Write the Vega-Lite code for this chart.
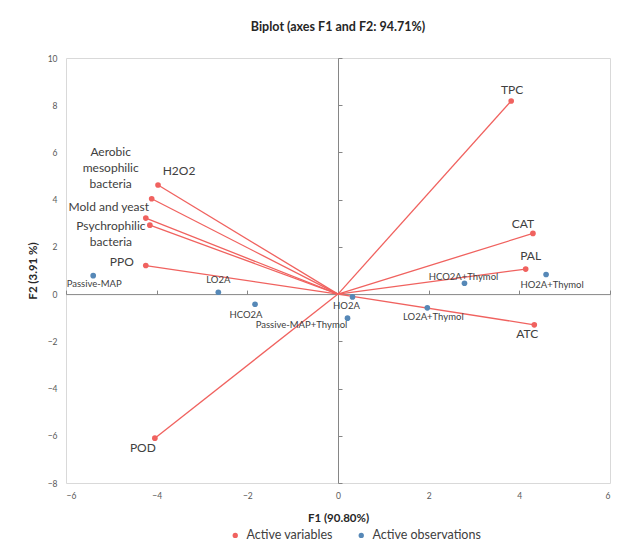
{
  "$schema": "https://vega.github.io/schema/vega-lite/v6.json",
  "width": 544,
  "height": 425,
  "autosize": {"type": "none"},
  "padding": {"left": 66, "top": 58, "right": 15, "bottom": 68},
  "background": "white",
  "title": {"text": "Biplot (axes F1 and F2: 94.71%)", "anchor": "middle", "font": "Lato", "fontSize": 12.5, "fontWeight": "bold", "color": "#262626", "offset": 21},
  "config": {
    "view": {"stroke": "#D9D9D9", "strokeWidth": 1},
    "font": "Lato",
    "text": {"font": "Lato"}
  },
  "data": {"values": [
    {"name": "TPC", "F1": 3.82, "F2": 8.18, "type": "Active variables"},
    {"name": "CAT", "F1": 4.30, "F2": 2.57, "type": "Active variables"},
    {"name": "PAL", "F1": 4.14, "F2": 1.06, "type": "Active variables"},
    {"name": "ATC", "F1": 4.33, "F2": -1.30, "type": "Active variables"},
    {"name": "POD", "F1": -4.04, "F2": -6.10, "type": "Active variables"},
    {"name": "PPO", "F1": -4.24, "F2": 1.21, "type": "Active variables"},
    {"name": "Psychrophilic bacteria", "F1": -4.15, "F2": 2.92, "type": "Active variables"},
    {"name": "Mold and yeast", "F1": -4.24, "F2": 3.22, "type": "Active variables"},
    {"name": "Aerobic mesophilic bacteria", "F1": -4.11, "F2": 4.04, "type": "Active variables"},
    {"name": "H2O2", "F1": -3.97, "F2": 4.62, "type": "Active variables"},
    {"name": "Passive-MAP", "F1": -5.40, "F2": 0.78, "type": "Active observations"},
    {"name": "LO2A", "F1": -2.64, "F2": 0.08, "type": "Active observations"},
    {"name": "HCO2A", "F1": -1.83, "F2": -0.43, "type": "Active observations"},
    {"name": "HO2A", "F1": 0.32, "F2": -0.12, "type": "Active observations"},
    {"name": "Passive-MAP+Thymol", "F1": 0.21, "F2": -1.02, "type": "Active observations"},
    {"name": "LO2A+Thymol", "F1": 1.97, "F2": -0.58, "type": "Active observations"},
    {"name": "HCO2A+Thymol", "F1": 2.79, "F2": 0.46, "type": "Active observations"},
    {"name": "HO2A+Thymol", "F1": 4.59, "F2": 0.83, "type": "Active observations"}
  ]},
  "resolve": {"scale": {"x": "independent", "y": "independent"}, "axis": {"x": "independent", "y": "independent"}},
  "layer": [
    {
      "encoding": {
        "x": {"field": "F1", "type": "quantitative", "scale": {"domain": [-6, 6], "nice": false},
          "axis": {"values": [-6, -4, -2, 0, 2, 4, 6], "grid": false, "domain": false, "ticks": false, "labelPadding": 8, "labelFontSize": 8.5, "labelColor": "#595959", "labelFont": "Lato",
            "title": "F1 (90.80%)", "titleFont": "Lato", "titleFontSize": 11.5, "titleFontWeight": "bold", "titleColor": "#262626", "titleBaseline": "middle", "titleY": 35}},
        "y": {"field": "F2", "type": "quantitative", "scale": {"domain": [-8, 10], "nice": false},
          "axis": {"values": [-8, -6, -4, -2, 0, 2, 4, 6, 8, 10], "grid": false, "domain": false, "ticks": false, "labelPadding": 9, "labelFontSize": 8.5, "labelColor": "#595959", "labelFont": "Lato",
            "title": "F2 (3.91 %)", "titleFont": "Lato", "titleFontSize": 11.5, "titleFontWeight": "bold", "titleColor": "#262626", "titleAngle": -90, "titleBaseline": "middle", "titleAlign": "center", "titleX": -33, "titleY": 212.5}}
      },
      "layer": [
        {
          "transform": [{"filter": "datum.type === 'Active variables'"}],
          "mark": {"type": "rule", "color": "#F0625F", "strokeWidth": 1.3},
          "encoding": {"x2": {"datum": 0}, "y2": {"datum": 0}}
        },
        {
          "mark": {"type": "point", "filled": true, "opacity": 1, "size": 32},
          "encoding": {
            "color": {"field": "type", "type": "nominal",
              "scale": {"domain": ["Active variables", "Active observations"], "range": ["#F0625F", "#5688B7"]},
              "legend": {"title": null, "orient": "none", "direction": "horizontal", "legendX": 163, "legendY": 471,
                "symbolType": "circle", "symbolSize": 28, "labelFont": "Lato", "labelFontSize": 12.5, "labelColor": "#404040", "labelOffset": 5, "columnPadding": 22}}
          }
        },
        {"transform": [{"filter": "datum.name === 'TPC'"}], "mark": {"type": "text", "fontSize": 12, "color": "#404040", "align": "center", "baseline": "middle", "dx": 1, "dy": -11}, "encoding": {"text": {"field": "name"}}},
        {"transform": [{"filter": "datum.name === 'CAT'"}], "mark": {"type": "text", "fontSize": 12, "color": "#404040", "align": "center", "baseline": "middle", "dx": -10, "dy": -9}, "encoding": {"text": {"field": "name"}}},
        {"transform": [{"filter": "datum.name === 'PAL'"}], "mark": {"type": "text", "fontSize": 12, "color": "#404040", "align": "center", "baseline": "middle", "dx": 5, "dy": -13}, "encoding": {"text": {"field": "name"}}},
        {"transform": [{"filter": "datum.name === 'ATC'"}], "mark": {"type": "text", "fontSize": 12, "color": "#404040", "align": "center", "baseline": "middle", "dx": -7, "dy": 9}, "encoding": {"text": {"field": "name"}}},
        {"transform": [{"filter": "datum.name === 'POD'"}], "mark": {"type": "text", "fontSize": 12, "color": "#404040", "align": "center", "baseline": "middle", "dx": -12, "dy": 10}, "encoding": {"text": {"field": "name"}}},
        {"transform": [{"filter": "datum.name === 'PPO'"}], "mark": {"type": "text", "fontSize": 12, "color": "#404040", "align": "center", "baseline": "middle", "dx": -24, "dy": -4}, "encoding": {"text": {"field": "name"}}},
        {"transform": [{"filter": "datum.name === 'H2O2'"}], "mark": {"type": "text", "fontSize": 12, "color": "#404040", "align": "center", "baseline": "middle", "dx": 21, "dy": -14}, "encoding": {"text": {"field": "name"}}},
        {"transform": [{"filter": "datum.name === 'Mold and yeast'"}], "mark": {"type": "text", "fontSize": 12, "color": "#404040", "align": "center", "baseline": "middle", "dx": -37, "dy": -11}, "encoding": {"text": {"field": "name"}}},
        {"transform": [{"filter": "datum.name === 'Aerobic mesophilic bacteria'"}], "mark": {"type": "text", "fontSize": 12, "color": "#404040", "align": "center", "baseline": "middle", "lineBreak": " ", "lineHeight": 16, "dx": -41, "dy": -47}, "encoding": {"text": {"field": "name"}}},
        {"transform": [{"filter": "datum.name === 'Psychrophilic bacteria'"}], "mark": {"type": "text", "fontSize": 12, "color": "#404040", "align": "center", "baseline": "middle", "lineBreak": " ", "lineHeight": 16, "dx": -39, "dy": 1}, "encoding": {"text": {"field": "name"}}},
        {"transform": [{"filter": "datum.name === 'Passive-MAP'"}], "mark": {"type": "text", "fontSize": 9.5, "color": "#404040", "align": "center", "baseline": "middle", "dx": 1, "dy": 8}, "encoding": {"text": {"field": "name"}}},
        {"transform": [{"filter": "datum.name === 'LO2A'"}], "mark": {"type": "text", "fontSize": 9.5, "color": "#404040", "align": "center", "baseline": "middle", "dx": 0, "dy": -12}, "encoding": {"text": {"field": "name"}}},
        {"transform": [{"filter": "datum.name === 'HCO2A'"}], "mark": {"type": "text", "fontSize": 9.5, "color": "#404040", "align": "center", "baseline": "middle", "dx": -9, "dy": 11}, "encoding": {"text": {"field": "name"}}},
        {"transform": [{"filter": "datum.name === 'HO2A'"}], "mark": {"type": "text", "fontSize": 9.5, "color": "#404040", "align": "center", "baseline": "middle", "dx": -6, "dy": 9}, "encoding": {"text": {"field": "name"}}},
        {"transform": [{"filter": "datum.name === 'Passive-MAP+Thymol'"}], "mark": {"type": "text", "fontSize": 9.5, "color": "#404040", "align": "center", "baseline": "middle", "dx": -46, "dy": 7}, "encoding": {"text": {"field": "name"}}},
        {"transform": [{"filter": "datum.name === 'LO2A+Thymol'"}], "mark": {"type": "text", "fontSize": 9.5, "color": "#404040", "align": "center", "baseline": "middle", "dx": 6, "dy": 9}, "encoding": {"text": {"field": "name"}}},
        {"transform": [{"filter": "datum.name === 'HCO2A+Thymol'"}], "mark": {"type": "text", "fontSize": 9.5, "color": "#404040", "align": "center", "baseline": "middle", "dx": -1, "dy": -6}, "encoding": {"text": {"field": "name"}}},
        {"transform": [{"filter": "datum.name === 'HO2A+Thymol'"}], "mark": {"type": "text", "fontSize": 9.5, "color": "#404040", "align": "center", "baseline": "middle", "dx": 6, "dy": 10}, "encoding": {"text": {"field": "name"}}}
      ]
    },
    {
      "mark": {"type": "point", "opacity": 0},
      "encoding": {
        "x": {"datum": 0, "type": "quantitative", "scale": {"domain": [-6, 6], "nice": false},
          "axis": {"orient": "top", "offset": -236.1, "values": [-6, -4, -2, 0, 2, 4, 6], "labels": false, "grid": false, "title": null, "domainColor": "#868686", "tickColor": "#868686", "tickSize": 4, "domainWidth": 1}},
        "y": {"datum": 0, "type": "quantitative", "scale": {"domain": [-8, 10], "nice": false},
          "axis": {"orient": "right", "offset": -272, "values": [-8, -6, -4, -2, 0, 2, 4, 6, 8, 10], "labels": false, "grid": false, "title": null, "domainColor": "#868686", "tickColor": "#868686", "tickSize": 4, "domainWidth": 1}}
      }
    }
  ]
}
